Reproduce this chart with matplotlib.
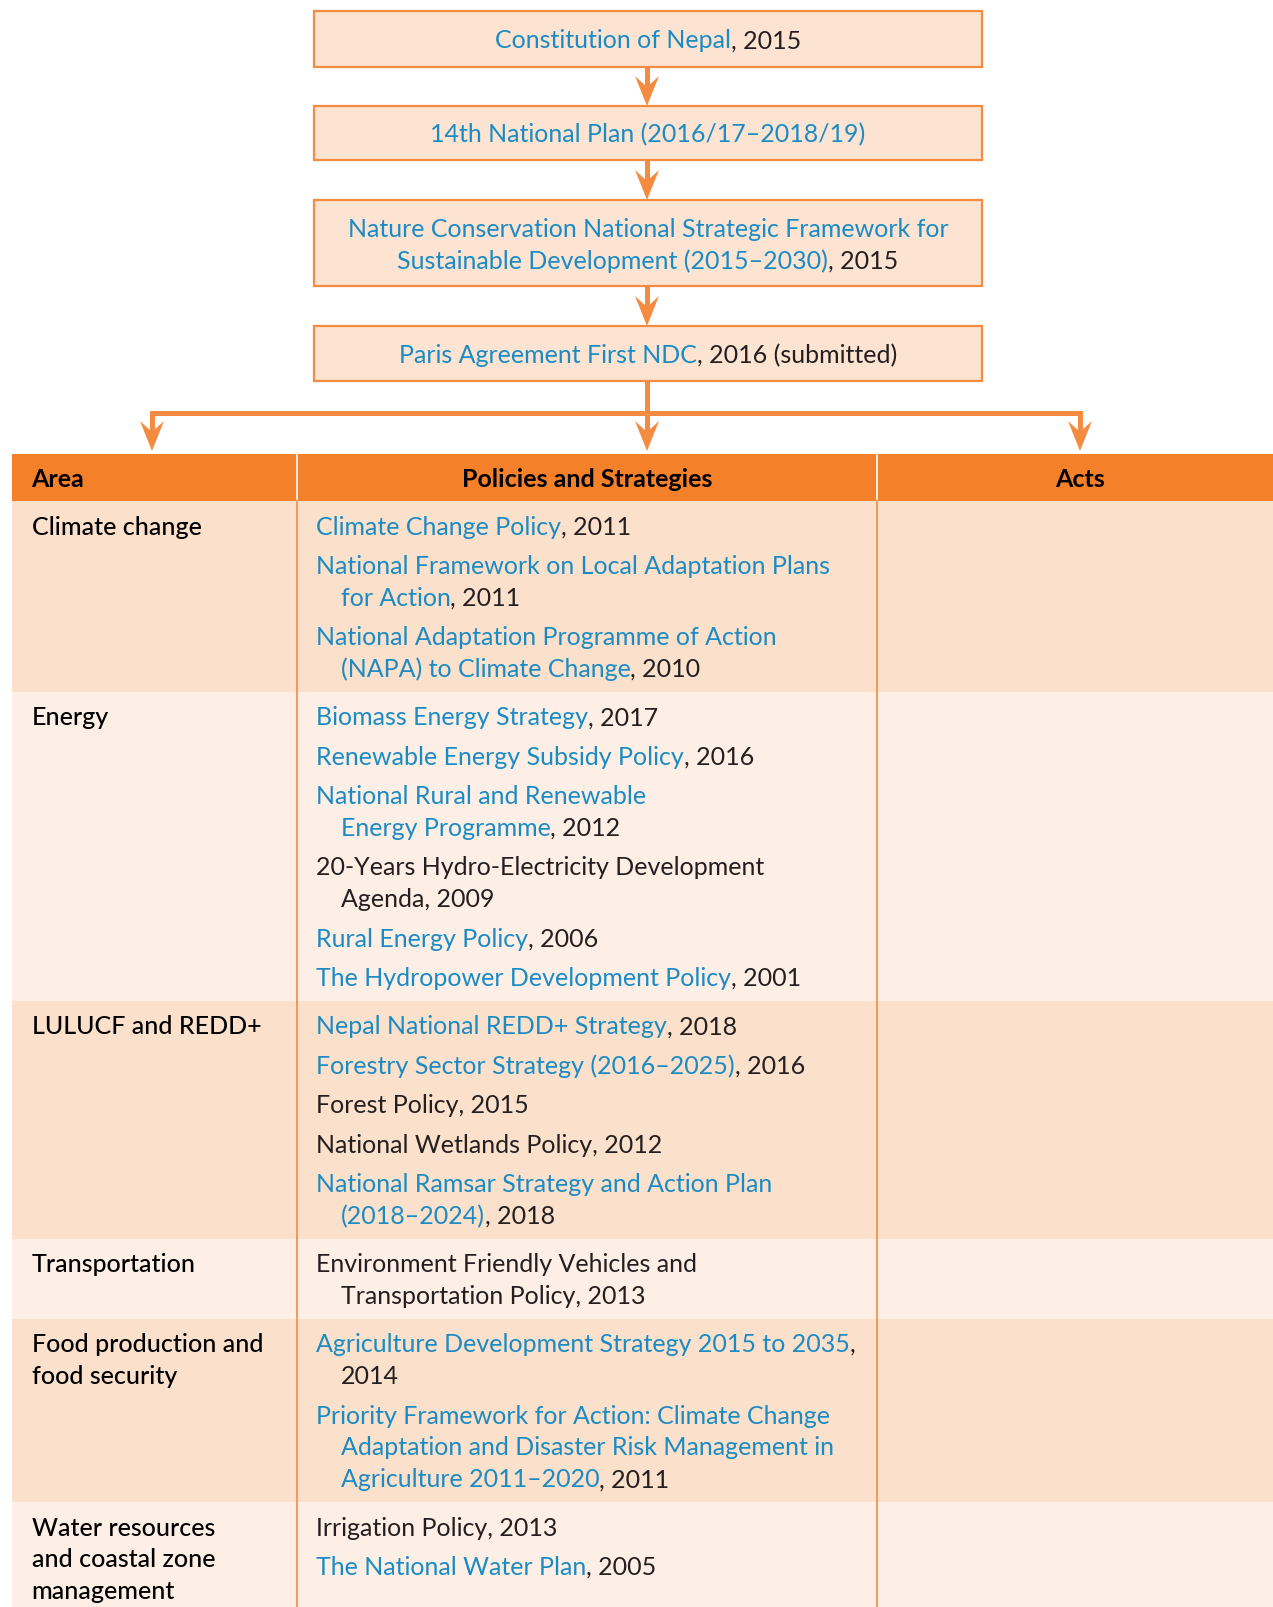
import matplotlib.pyplot as plt
from matplotlib.patches import Rectangle, Polygon

W, H = 1273, 1608
DPI = 100
FONT = "Lato"
FS = 18

ORANGE = "#F48029"
LINE = "#F58B40"
BOX_FILL = "#FDE4D2"
ROW_DARK = "#FBE0CB"
ROW_LIGHT = "#FDEFE5"
BLUE = "#1B8BC4"
BLACK = "#231F20"

# [..] marks the linked (blue) part of a title, \n marks a wrapped line
CHAIN = [
    "[Constitution of Nepal], 2015",
    "[14th National Plan (2016/17\u20132018/19)]",
    "[Nature Conservation National Strategic Framework for\n"
    "Sustainable Development (2015\u20132030)], 2015",
    "[Paris Agreement First NDC], 2016 (submitted)",
]
HEADERS = ["Area", "Policies and Strategies", "Acts"]
AREAS = [
    "Climate change",
    "Energy",
    "LULUCF and REDD+",
    "Transportation",
    "Food production and\nfood security",
    "Water resources\nand coastal zone\nmanagement",
]
POLICIES = [
    ["[Climate Change Policy], 2011",
     "[National Framework on Local Adaptation Plans\nfor Action], 2011",
     "[National Adaptation Programme of Action\n(NAPA) to Climate Change], 2010"],
    ["[Biomass Energy Strategy], 2017",
     "[Renewable Energy Subsidy Policy], 2016",
     "[National Rural and Renewable\nEnergy Programme], 2012",
     "20-Years Hydro-Electricity Development\nAgenda, 2009",
     "[Rural Energy Policy], 2006",
     "[The Hydropower Development Policy], 2001"],
    ["[Nepal National REDD+ Strategy], 2018",
     "[Forestry Sector Strategy (2016\u20132025)], 2016",
     "Forest Policy, 2015",
     "National Wetlands Policy, 2012",
     "[National Ramsar Strategy and Action Plan\n(2018\u20132024)], 2018"],
    ["Environment Friendly Vehicles and\nTransportation Policy, 2013"],
    ["[Agriculture Development Strategy 2015 to 2035],\n2014",
     "[Priority Framework for Action: Climate Change\nAdaptation and Disaster Risk Management in\n"
     "Agriculture 2011\u20132020], 2011"],
    ["Irrigation Policy, 2013",
     "[The National Water Plan], 2005"],
]
ACTS = [[], [], [], [], [], []]  # Acts column is left blank in the source

# layout (pixels)
BOX_X0, BOX_X1 = 314, 982
BOX_Y = [(12, 68), (107, 161), (201, 287), (327, 382)]
MID_X = 647
SPLIT_Y = 414
TARGET_X = [152, 647, 1080]
HEAD_Y0, HEAD_Y1 = 455, 502
COL_X = [12, 296.5, 877, W]
LINE_STEP = 31.8
ITEM_GAP = 39.4
PAD_TOP = 24.1
PAD_BOT = 24.3
INDENT = 24.6
TXT_DY = 1.0
LW = 3.6


def parse(s):
    lines, blue = [], False
    for raw in s.split("\n"):
        segs, buf = [], ""
        for ch in raw:
            if ch in "[]":
                if buf:
                    segs.append((buf, blue))
                buf = ""
                blue = ch == "["
            else:
                buf += ch
        if buf:
            segs.append((buf, blue))
        lines.append(segs)
    return lines


def draw_line(ax, rend, x, y, segs, ha="left", **kw):
    texts = [ax.text(x, y + TXT_DY, t, color=BLUE if b else BLACK, ha="left", va="center",
                     family=FONT, fontsize=FS, **kw) for t, b in segs]
    widths = [t.get_window_extent(rend).width for t in texts]
    x0 = x - sum(widths) / 2 if ha == "center" else x
    for t, w in zip(texts, widths):
        t.set_x(x0)
        x0 += w


def arrow_head(ax, x, y):
    ax.add_patch(Polygon([(x - 12, y - 30), (x, y), (x + 12, y - 30), (x, y - 19)],
                         closed=True, color=LINE, lw=0, zorder=4))


fig = plt.figure(figsize=(W / DPI, H / DPI), dpi=DPI)
ax = fig.add_axes([0, 0, 1, 1])
ax.set_xlim(0, W)
ax.set_ylim(H, 0)
ax.axis("off")
rend = fig.canvas.get_renderer()

# chain of boxes
for i, (label, (y0, y1)) in enumerate(zip(CHAIN, BOX_Y)):
    ax.add_patch(Rectangle((BOX_X0, y0), BOX_X1 - BOX_X0, y1 - y0,
                           facecolor=BOX_FILL, edgecolor=LINE, lw=1.6, zorder=2))
    lines = parse(label)
    cy = (y0 + y1) / 2 - (len(lines) - 1) * LINE_STEP / 2
    for k, segs in enumerate(lines):
        draw_line(ax, rend, (BOX_X0 + BOX_X1) / 2, cy + k * LINE_STEP, segs, ha="center")
    if i + 1 < len(BOX_Y):
        nxt = BOX_Y[i + 1][0]
        ax.plot([MID_X, MID_X], [y1, nxt - 10], color=LINE, lw=LW, solid_capstyle="butt")
        arrow_head(ax, MID_X, nxt)

# split into the three columns
last = BOX_Y[-1][1]
ax.plot([MID_X, MID_X], [last, HEAD_Y0 - 14], color=LINE, lw=LW, solid_capstyle="butt")
ax.plot([TARGET_X[0], TARGET_X[-1]], [SPLIT_Y, SPLIT_Y], color=LINE, lw=LW,
        solid_capstyle="projecting")
for tx in TARGET_X:
    ax.plot([tx, tx], [SPLIT_Y, HEAD_Y0 - 14], color=LINE, lw=LW, solid_capstyle="butt")
    arrow_head(ax, tx, HEAD_Y0 - 3)

# header
ax.add_patch(Rectangle((COL_X[0], HEAD_Y0), COL_X[-1] - COL_X[0], HEAD_Y1 - HEAD_Y0,
                       facecolor=ORANGE, lw=0, zorder=1))
hy = (HEAD_Y0 + HEAD_Y1) / 2 + TXT_DY
head_x = [COL_X[0] + 19.5, (COL_X[1] + COL_X[2]) / 2, TARGET_X[-1]]
for j, (hx, name) in enumerate(zip(head_x, HEADERS)):
    ax.text(hx, hy, name, ha="left" if j == 0 else "center", va="center",
            family=FONT, fontsize=FS, fontweight="bold", color="black")
for cx in COL_X[1:3]:
    ax.plot([cx, cx], [HEAD_Y0, HEAD_Y1], color="white", lw=1.2, zorder=3)

# body rows
top = HEAD_Y1
for r, (area, pols) in enumerate(zip(AREAS, POLICIES)):
    y = top + PAD_TOP
    pol_lines = []
    for n, item in enumerate(pols):
        for k, segs in enumerate(parse(item)):
            pol_lines.append((y, k > 0, segs))
            y += LINE_STEP
        y += ITEM_GAP - LINE_STEP
    area_lines = area.split("\n")
    h_pol = pol_lines[-1][0] - top + PAD_BOT
    h_area = PAD_TOP + (len(area_lines) - 1) * LINE_STEP + PAD_BOT
    bot = min(top + max(h_pol, h_area), H)
    ax.add_patch(Rectangle((COL_X[0], top), COL_X[-1] - COL_X[0], bot - top,
                           facecolor=ROW_DARK if r % 2 == 0 else ROW_LIGHT, lw=0, zorder=0))
    for k, txt in enumerate(area_lines):
        ax.text(COL_X[0] + 19.5, top + PAD_TOP + k * LINE_STEP + TXT_DY, txt, ha="left",
                va="center", family=FONT, fontsize=FS, fontweight=500, color="black")
    for ly, cont, segs in pol_lines:
        draw_line(ax, rend, COL_X[1] + 19.5 + (INDENT if cont else 0), ly, segs)
    top = bot

for cx in COL_X[1:3]:
    ax.plot([cx, cx], [HEAD_Y1, H], color=LINE, lw=1.2, zorder=3)

fig.savefig("out.png", dpi=DPI)
